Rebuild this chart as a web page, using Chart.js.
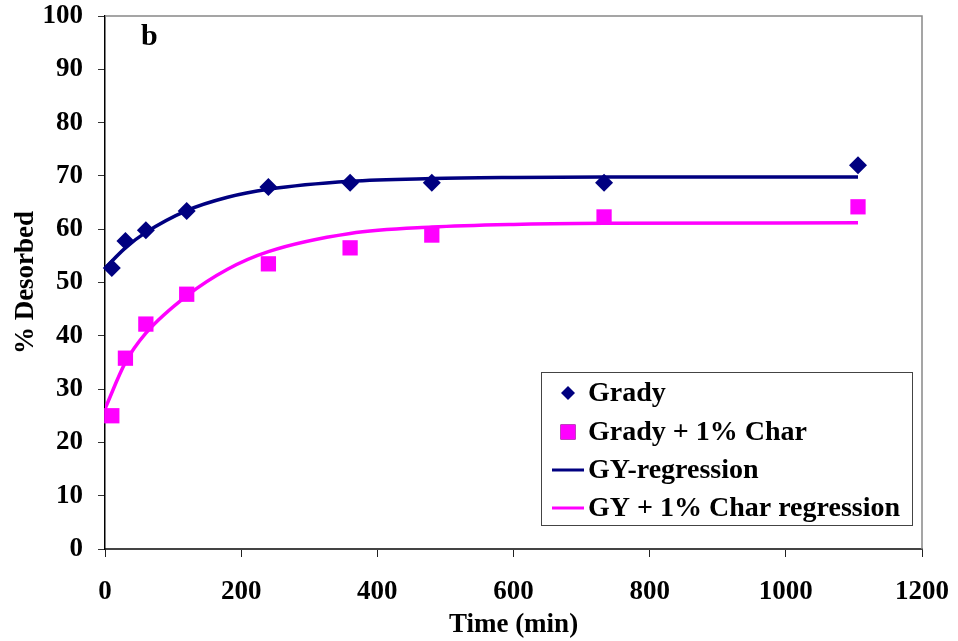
<!DOCTYPE html>
<html>
<head>
<meta charset="utf-8">
<script src="https://cdn.jsdelivr.net/npm/chart.js@4/dist/chart.umd.min.js"></script>
<style>
  html, body { margin: 0; padding: 0; background: #fff; }
  #wrap { width: 958px; height: 641px; }
</style>
</head>
<body>
<div id="wrap"><canvas id="myChart" width="958" height="641"></canvas></div>
<script>
// measured points (time in min, % desorbed)
var timeMin = [10, 30, 60, 120, 240, 360, 480, 733, 1106];
var grady = [52.7, 57.8, 59.8, 63.4, 67.9, 68.7, 68.7, 68.7, 72.0];
var gradyChar = [25.0, 35.8, 42.2, 47.8, 53.5, 56.5, 58.9, 62.3, 64.2];

// regression curves
var regTime = [0, 30, 60, 120, 180, 240, 360, 480, 600, 733, 1106];
var gyReg = [52.7, 56.5, 59.4, 63.5, 66.0, 67.5, 69.0, 69.5, 69.7, 69.8, 69.8];
var gyCharReg = [26.3, 35.0, 40.5, 47.5, 52.5, 55.8, 59.2, 60.4, 60.9, 61.1, 61.2];

var xTicks = [0, 200, 400, 600, 800, 1000, 1200];
var yTicks = [0, 10, 20, 30, 40, 50, 60, 70, 80, 90, 100];

var NAVY = '#000080', PINK = '#ff00ff';
var serif = "'Liberation Serif', 'Times New Roman', serif";

function pts(xs, ys) {
  return xs.map(function (x, i) { return {x: x, y: ys[i]}; });
}

var extras = {
  id: 'extras',
  afterDraw: function (chart) {
    var ctx = chart.ctx, a = chart.chartArea;
    ctx.save();
    // plot frame top + right
    ctx.strokeStyle = '#888';
    ctx.lineWidth = 1.5;
    ctx.beginPath();
    ctx.moveTo(a.left, a.top);
    ctx.lineTo(a.right, a.top);
    ctx.lineTo(a.right, a.bottom);
    ctx.stroke();

    // panel letter
    ctx.fillStyle = '#000';
    ctx.font = 'bold 30px ' + serif;
    ctx.textBaseline = 'alphabetic';
    ctx.fillText('b', 141, 45);

    // legend box
    var bx = 541, by = 372, bw = 371, bh = 153;
    ctx.fillStyle = '#fff';
    ctx.fillRect(bx, by, bw, bh);
    ctx.strokeStyle = '#444';
    ctx.lineWidth = 1;
    ctx.strokeRect(bx + 0.5, by + 0.5, bw, bh);

    var rows = [393, 432, 470, 508];
    ctx.font = 'bold 28px ' + serif;
    ctx.textBaseline = 'middle';
    chart.data.datasets.forEach(function (ds, i) {
      var cy = rows[i], cx = 568;
      if (ds.showLine) {
        ctx.strokeStyle = ds.borderColor;
        ctx.lineWidth = 3;
        ctx.beginPath();
        ctx.moveTo(552, cy);
        ctx.lineTo(584, cy);
        ctx.stroke();
      } else {
        Chart.helpers.drawPoint(ctx, {
          pointStyle: ds.pointStyle,
          radius: ds.pointStyle === 'rect' ? 10.6 : 7,
          borderWidth: 0
        }, cx, cy);
        ctx.fillStyle = ds.backgroundColor;
        ctx.fill();
      }
      ctx.fillStyle = '#000';
      ctx.fillText(ds.label, 588, cy + 1);
    });
    ctx.restore();
  }
};

var tickFont = {family: serif, size: 27, weight: 'bold'};
function plain(v) { return String(v); }

var ctx = document.getElementById('myChart');
var myChart = new Chart(ctx, {
  type: 'scatter',
  data: {
    datasets: [{
      label: 'Grady',
      data: pts(timeMin, grady),
      pointStyle: 'rectRot',
      pointRadius: 9,
      pointHoverRadius: 9,
      backgroundColor: NAVY,
      borderColor: NAVY,
      borderWidth: 0,
      showLine: false,
      order: 0,
      clip: false
    }, {
      label: 'Grady + 1% Char',
      data: pts(timeMin, gradyChar),
      pointStyle: 'rect',
      pointRadius: 10.8,
      pointHoverRadius: 10.8,
      backgroundColor: PINK,
      borderColor: PINK,
      borderWidth: 0,
      showLine: false,
      order: 0,
      clip: false
    }, {
      label: 'GY-regression',
      data: pts(regTime, gyReg),
      borderColor: NAVY,
      backgroundColor: NAVY,
      borderWidth: 3.5,
      pointRadius: 0,
      showLine: true,
      cubicInterpolationMode: 'monotone',
      order: 1
    }, {
      label: 'GY + 1% Char regression',
      data: pts(regTime, gyCharReg),
      borderColor: PINK,
      backgroundColor: PINK,
      borderWidth: 3.5,
      pointRadius: 0,
      showLine: true,
      cubicInterpolationMode: 'monotone',
      order: 1
    }]
  },
  options: {
    responsive: false,
    maintainAspectRatio: false,
    animation: false,
    layout: {padding: {top: 16, right: 36, left: 0, bottom: 0}},
    plugins: {legend: {display: false}, tooltip: {enabled: false}},
    scales: {
      x: {
        type: 'linear',
        min: 0,
        max: 1200,
        afterFit: function (s) { s.height = 92; s.paddingLeft = 0; s.paddingRight = 0; },
        afterBuildTicks: function (s) { s.ticks = xTicks.map(function (v) { return {value: v}; }); },
        ticks: {font: tickFont, color: '#000', padding: 19, maxRotation: 0, callback: plain},
        grid: {drawOnChartArea: false, drawTicks: true, tickLength: 8, color: '#222', lineWidth: 1},
        border: {display: true, color: '#444', width: 2},
        title: {display: true, text: 'Time (min)', font: tickFont, color: '#000', padding: {top: 3, bottom: 0}}
      },
      y: {
        min: 0,
        max: 100,
        afterFit: function (s) { s.width = 105; s.paddingTop = 0; s.paddingBottom = 0; },
        afterBuildTicks: function (s) { s.ticks = yTicks.map(function (v) { return {value: v}; }); },
        ticks: {font: tickFont, color: '#000', padding: 15, callback: plain},
        grid: {drawOnChartArea: false, drawTicks: true, tickLength: 7, color: '#333', lineWidth: 1},
        border: {display: true, color: '#000', width: 1.5},
        title: {display: true, text: '% Desorbed', font: tickFont, color: '#000', padding: {top: 10, bottom: 0}}
      }
    }
  },
  plugins: [extras]
});
</script>
</body>
</html>
